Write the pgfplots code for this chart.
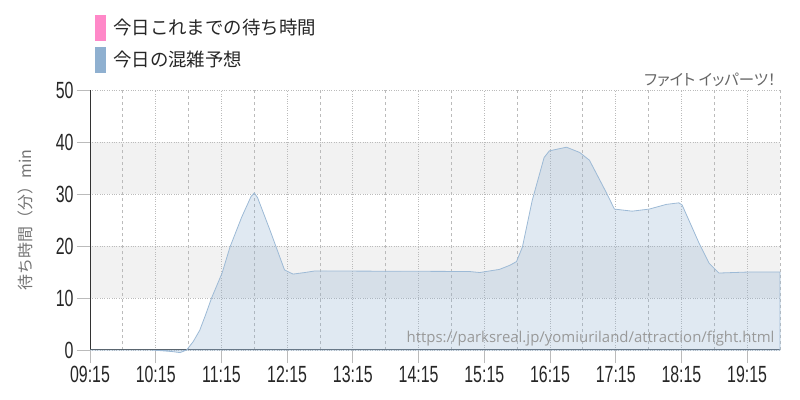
\documentclass[border=0pt]{standalone}
\usepackage{fontspec}
\usepackage{pgfplots}
\pgfplotsset{compat=1.18}
\setmainfont{Liberation Sans}
\newfontfamily\condfont{Liberation Sans}[FakeStretch=0.68]
\newfontfamily\jpfont{Noto Sans CJK JP}
\newfontfamily\jppfont{Noto Sans CJK JP}[RawFeature=+palt]
\newfontfamily\wmfont{Open Sans}
\definecolor{bandgray}{HTML}{F2F2F2}
\definecolor{pinkc}{HTML}{FF88C8}
\definecolor{bluec}{HTML}{8FB0D0}
\definecolor{linec}{HTML}{9DBAD6}
\definecolor{gridc}{HTML}{BBBBBB}

\begin{document}
\begin{tikzpicture}
\begin{axis}[
    set layers,
    at={(90bp,50bp)}, anchor=south west,
    width=690bp, height=260bp, scale only axis,
    xmin=9.25, xmax=19.75, ymin=0, ymax=50,
    clip=false,
    xtick={9.25,10.25,11.25,12.25,13.25,14.25,15.25,16.25,17.25,18.25,19.25},
    xticklabels={09:15,10:15,11:15,12:15,13:15,14:15,15:15,16:15,17:15,18:15,19:15},
    minor xtick={9.75,10.75,11.75,12.75,13.75,14.75,15.75,16.75,17.75,18.75,19.75},
    ytick={0,10,20,30,40,50},
    axis x line*=bottom, axis y line*=left,
    axis line style={-, draw=black!80, line width=1bp},
    tick align=outside,
    major tick length=13bp, minor tick length=0pt,
    tick style={gridc, line width=0.8bp},
    xmajorgrids, xminorgrids, ymajorgrids,
    major grid style={gridc, dotted, line width=0.8bp},
    minor grid style={gridc, dashed, line width=0.8bp},
    /pgf/number format/assume math mode=true,
    ticklabel style={font=\condfont\fontsize{23.5}{23.5}\selectfont, text=black!85},
    ylabel={\jpfont 待ち時間（分）min},
    every axis y label/.style={at={(axis description cs:-0.094,0.5)}, rotate=90, anchor=center,
        font=\jpfont\fontsize{16}{16}\selectfont, text=black!55},
]
\begin{pgfonlayer}{axis background}
\fill[bandgray] (axis cs:9.25,10) rectangle (axis cs:19.75,20);
\fill[bandgray] (axis cs:9.25,30) rectangle (axis cs:19.75,40);
\end{pgfonlayer}

% today's forecast
\addplot[draw=linec, line width=0.8bp, fill=bluec, fill opacity=0.28] coordinates {
(9.25,0)(10.16,0)(10.3,-0.1)(10.5,-0.3)(10.62,-0.5)(10.72,0)(10.82,1.6)(10.92,3.8)
(11.01,6.8)(11.1,10)(11.26,14.8)(11.38,19.8)(11.56,25.6)(11.7,29.5)(11.75,30.2)
(11.8,29.3)(11.99,23)(12.21,15.4)
(12.34,14.6)(12.52,14.9)(12.67,15.2)(15.02,15.1)(15.18,14.9)(15.48,15.5)
(15.64,16.3)(15.74,17)(15.83,19.8)(15.98,28.8)(16.16,37)(16.24,38.3)(16.5,39)
(16.7,38)(16.85,36.5)(17.11,30.2)(17.23,27.1)(17.5,26.7)(17.76,27.1)(18.02,28)
(18.21,28.3)(18.26,27.9)(18.52,20.5)(18.67,16.7)(18.82,14.8)(19.28,15)(19.75,15)
} \closedcycle;

\node[anchor=base east, font=\wmfont\fontsize{15}{15}\selectfont, text=black!40]
    at (axis cs:19.72,1.35) {https://parksreal.jp/yomiuriland/attraction/fight.html};
\end{axis}

% legend and caption
\fill[pinkc] (95bp,359bp) rectangle (106bp,385bp);
\fill[bluec] (95bp,327bp) rectangle (106bp,353bp);
\node[anchor=west, inner sep=0pt, font=\jpfont\fontsize{18.5}{18.5}\selectfont, text=black!85] at (113bp,372bp) {今日これまでの待ち時間};
\node[anchor=west, inner sep=0pt, font=\jpfont\fontsize{18.5}{18.5}\selectfont, text=black!85] at (113bp,340bp) {今日の混雑予想};
\node[anchor=east, inner sep=0pt, font=\jppfont\fontsize{15.5}{15.5}\selectfont, text=black!60] at (776bp,320bp) {ファイト イッパーツ！};
\path (0,0) rectangle (800bp,400bp);
\end{tikzpicture}
\end{document}
